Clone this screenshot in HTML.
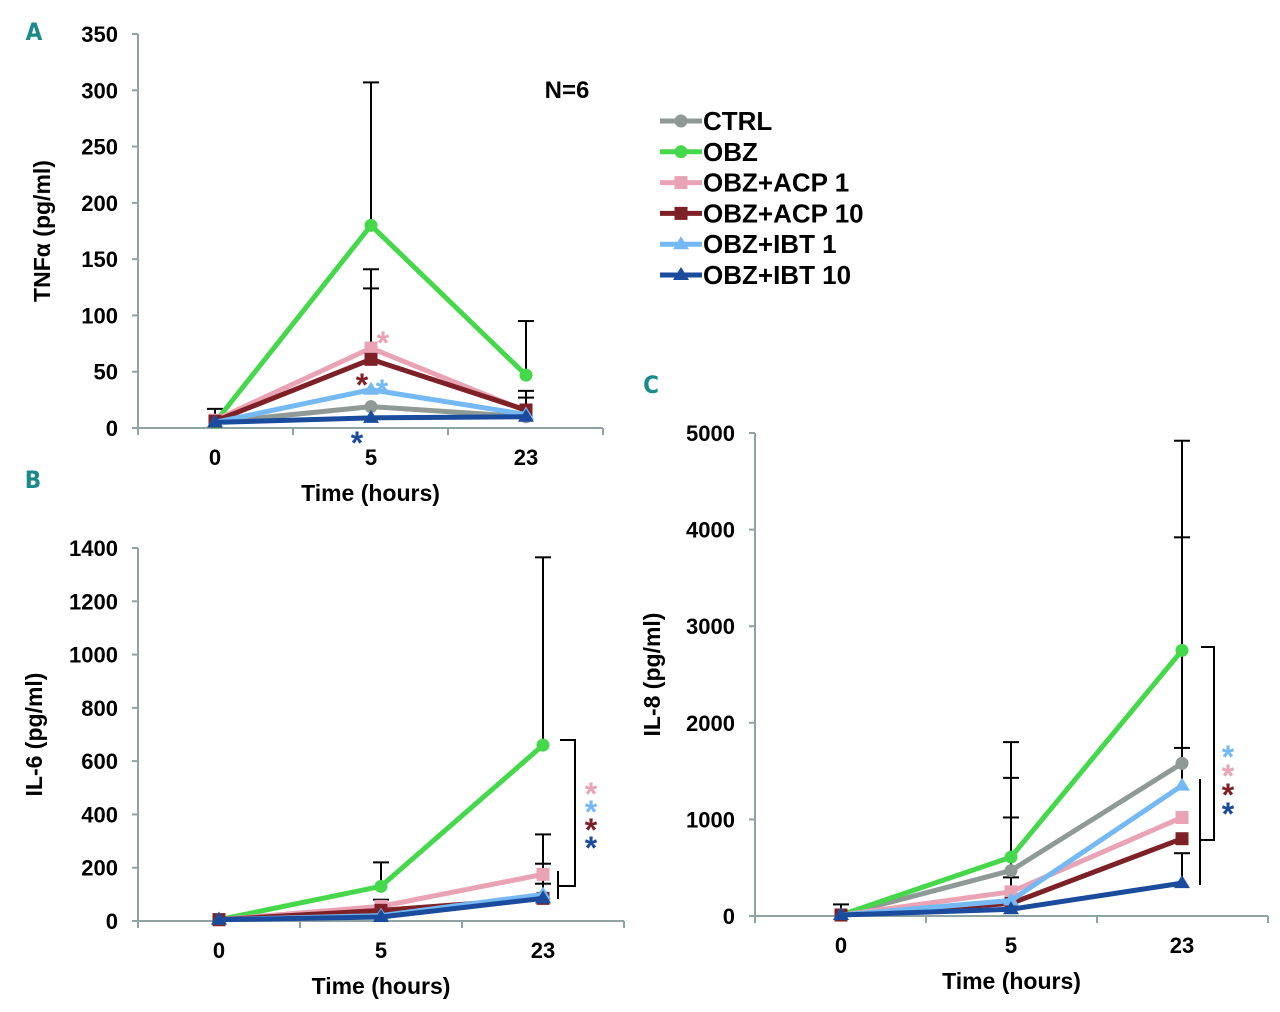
<!DOCTYPE html>
<html><head><meta charset="utf-8"><style>
body{margin:0;background:#fff;}
svg{display:block;font-family:"Liberation Sans",Arial,sans-serif;}
.tk{font-size:22px;font-weight:bold;fill:#000;}
.ttl{font-size:23px;font-weight:bold;fill:#000;}
.pl{font-size:24px;font-weight:bold;fill:#1a8a8a;font-family:"DejaVu Sans Condensed","Liberation Sans Narrow","Liberation Sans",sans-serif;}
</style></head><body>
<svg id="c" width="1280" height="1012" viewBox="0 0 1280 1012" xmlns="http://www.w3.org/2000/svg"></svg>
<script>
const categories=["0","5","23"];
const seriesNames=["CTRL","OBZ","OBZ+ACP 1","OBZ+ACP 10","OBZ+IBT 1","OBZ+IBT 10"];
const colors=["#8f9a96","#44d84a","#eaa3b4","#7e2126","#74b9f3","#1a4b9c"];
const markers=["circle","circle","square","square","tri","tri"];
const tnfCTRL=[5,19,10],tnfOBZ=[5,180,47],tnfACP1=[7,71,15],tnfACP10=[6,61,16],tnfIBT1=[5,34,12],tnfIBT10=[5,9,10];
const il6CTRL=[5,30,90],il6OBZ=[5,130,660],il6ACP1=[5,55,175],il6ACP10=[5,40,85],il6IBT1=[5,20,100],il6IBT10=[5,15,85];
const il8CTRL=[10,470,1580],il8OBZ=[10,610,2750],il8ACP1=[10,250,1020],il8ACP10=[10,130,800],il8IBT1=[10,160,1350],il8IBT10=[10,70,340];
const tnfErr=[[0,5,17],[1,180,307],[1,71,141],[1,61,124],[2,47,95],[2,16,33],[2,15,27]];
const il6Err=[[1,130,220],[1,55,80],[2,660,1365],[2,175,325],[2,90,215],[2,85,140]];
const il8Err=[[0,10,120],[1,610,1800],[1,470,1430],[1,250,1020],[1,130,400],[2,2750,4920],[2,1580,3920],[2,1350,1740],[2,340,650]];
const tnfTicks=[0,50,100,150,200,250,300,350];
const il6Ticks=[0,200,400,600,800,1000,1200,1400];
const il8Ticks=[0,1000,2000,3000,4000,5000];
const NS="http://www.w3.org/2000/svg";const svg=document.getElementById('c');
function el(t,a,p){const e=document.createElementNS(NS,t);for(const k in a)e.setAttribute(k,a[k]);(p||svg).appendChild(e);return e;}
function txt(x,y,s,cls,anchor,p,fill){const e=el('text',{x:x,y:y,class:cls,'text-anchor':anchor||'middle'},p);if(fill)e.setAttribute('fill',fill);e.textContent=s;return e;}
function panel(name,cfg){
 const g=el('g',{});
 
 
 const ymax=cfg.ticks[cfg.ticks.length-1];
 const Y=v=>cfg.y0-(v/ymax)*(cfg.y0-cfg.y1);
 const X=i=>cfg.cx[i];
 const ax=el('g',{},g);
 
 
 el('line',{x1:cfg.ax,y1:cfg.y1,x2:cfg.ax,y2:cfg.y0,stroke:'#8fa3a3','stroke-width':2},ax);
 el('line',{x1:cfg.ax,y1:cfg.y0,x2:cfg.xend,y2:cfg.y0,stroke:'#8fa3a3','stroke-width':2},ax);
 const step=(cfg.xend-cfg.ax)/3;
 for(let i=0;i<=3;i++)el('line',{x1:cfg.ax+i*step,y1:cfg.y0,x2:cfg.ax+i*step,y2:cfg.y0+7,stroke:'#8fa3a3','stroke-width':2},ax);
 cfg.ticks.forEach(t=>{el('line',{x1:cfg.ax-6,y1:Y(t),x2:cfg.ax,y2:Y(t),stroke:'#8fa3a3','stroke-width':2},ax);txt(cfg.ax-20,Y(t)+8,String(t),'tk','end',ax);});
 categories.forEach((c,i)=>txt(X(i),cfg.y0+37,c,'tk','middle',ax));
 txt((cfg.ax+cfg.xend)/2,cfg.y0+73,'Time (hours)','ttl','middle',ax);
 const yt=txt(0,0,cfg.ytitle,'ttl','middle',ax);yt.setAttribute('transform',`translate(${cfg.ytx},${(cfg.y0+cfg.y1)/2}) rotate(-90)`);
 cfg.err.forEach(e=>{const x=X(e[0]);el('line',{x1:x,y1:Y(e[1]),x2:x,y2:Y(e[2]),stroke:'#000','stroke-width':2},g);el('line',{x1:x-8,y1:Y(e[2]),x2:x+8,y2:Y(e[2]),stroke:'#000','stroke-width':2},g);});
 cfg.series.forEach((s,si)=>{
  const sg=el('g',{},g);
  
  
  el('polyline',{points:s.map((v,i)=>X(i)+','+Y(v)).join(' '),fill:'none',stroke:colors[si],'stroke-width':5},sg);
  s.forEach((v,i)=>marker(markers[si],X(i),Y(v),colors[si],sg));
 });
 return {g,Y,X};
}
function marker(m,x,y,c,p){
 if(m==='circle')el('circle',{cx:x,cy:y,r:6.5,fill:c},p);
 else if(m==='square')el('rect',{x:x-6.5,y:y-6.5,width:13,height:13,fill:c},p);
 else el('polygon',{points:`${x},${y-8} ${x+8},${y+5} ${x-8},${y+5}`,fill:c},p);
}
function star(x,y,c,p){const t=txt(x,y,'*','tk','middle',p,c);t.setAttribute('style','font-size:32px;fill:'+c);}
const A=panel('panel-a-tnf',{ax:138,xend:603,y0:428,y1:34,cx:[215,371,526],ticks:tnfTicks,ytitle:'TNFα (pg/ml)',ytx:50,series:[tnfCTRL,tnfOBZ,tnfACP1,tnfACP10,tnfIBT1,tnfIBT10],err:tnfErr});
const B=panel('panel-b-il6',{ax:138,xend:624,y0:921,y1:548,cx:[219,381,543],ticks:il6Ticks,ytitle:'IL-6 (pg/ml)',ytx:42,series:[il6CTRL,il6OBZ,il6ACP1,il6ACP10,il6IBT1,il6IBT10],err:il6Err});
const C=panel('panel-c-il8',{ax:755,xend:1268,y0:916,y1:433,cx:[841,1011,1182],ticks:il8Ticks,ytitle:'IL-8 (pg/ml)',ytx:660,series:[il8CTRL,il8OBZ,il8ACP1,il8ACP10,il8IBT1,il8IBT10],err:il8Err});
star(383,354,colors[2],A.g);star(362,396,colors[3],A.g);star(382,402,colors[4],A.g);star(357,454,colors[5],A.g);
el('path',{d:'M560,740 L575,740 L575,886 L568,886',fill:'none',stroke:'#000','stroke-width':2},B.g);
el('path',{d:'M568,886 L558,886 M558,871 L558,899',fill:'none',stroke:'#000','stroke-width':2},B.g);
[2,4,3,5].forEach((k,i)=>star(591,805+i*18,colors[k],B.g));
el('path',{d:'M1201,647 L1214,647 L1214,840 L1201,840',fill:'none',stroke:'#000','stroke-width':2},C.g);
el('line',{x1:1200,y1:779,x2:1200,y2:885,stroke:'#000','stroke-width':2},C.g);
[4,2,3,5].forEach((k,i)=>star(1228,768+i*19,colors[k],C.g));
txt(34,40,'A','pl','middle');txt(33,488,'B','pl','middle');txt(651,393,'C','pl','middle');
txt(567,98,'N=6','ttl','middle').setAttribute('style','font-size:24px');
const lg=el('g',{});


seriesNames.forEach((n,i)=>{
 const y=121+i*30.8;
 const e=el('g',{},lg);
 
 
 el('line',{x1:660,y1:y,x2:702,y2:y,stroke:colors[i],'stroke-width':5},e);
 marker(markers[i],681,y,colors[i],e);
 txt(703,y+9,n,'ttl','start',e).setAttribute('style','font-size:26px');
});
</script>
</body></html>
